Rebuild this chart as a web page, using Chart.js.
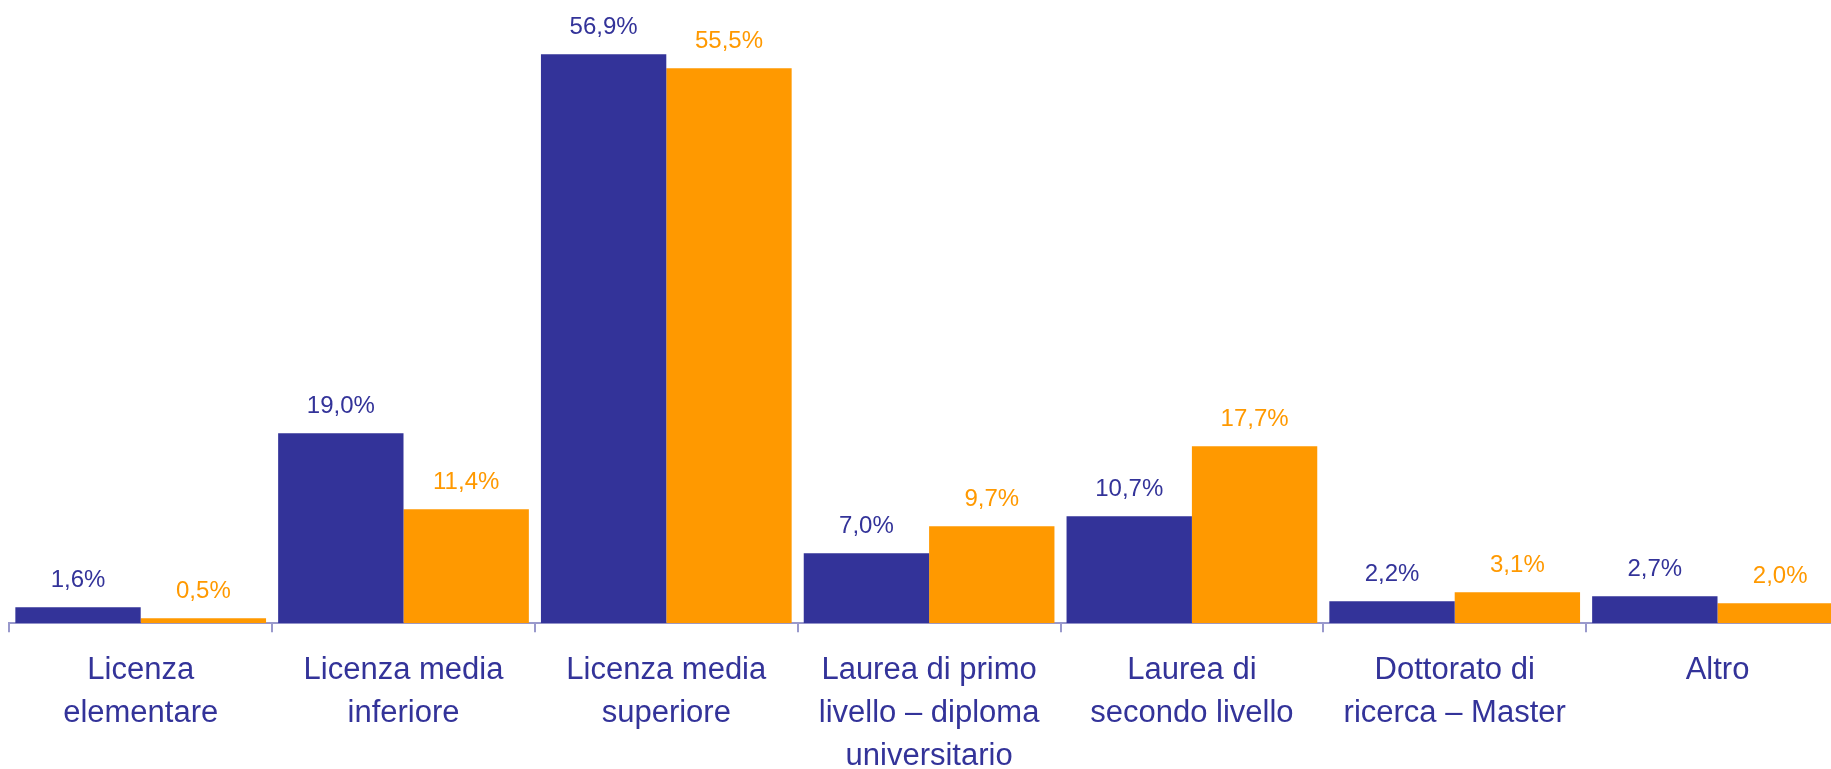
<!DOCTYPE html>
<html>
<head>
<meta charset="utf-8">
<script src="https://cdn.jsdelivr.net/npm/chart.js@4.4.1/dist/chart.umd.min.js"></script>
<style>
  html, body { margin: 0; padding: 0; background: #fff; overflow: hidden; }
  #wrap { width: 1860px; height: 800px; }
</style>
</head>
<body>
<div id="wrap"><canvas id="chart" width="1860" height="800"></canvas></div>
<script>
// titolo di studio - two groups
const categories = [
  ['Licenza', 'elementare'],
  ['Licenza media', 'inferiore'],
  ['Licenza media', 'superiore'],
  ['Laurea di primo', 'livello – diploma', 'universitario'],
  ['Laurea di', 'secondo livello'],
  ['Dottorato di', 'ricerca – Master'],
  ['Altro']
];
const seriesBlue = [1.6, 19.0, 56.9, 7.0, 10.7, 2.2, 2.7];
const seriesOrange = [0.5, 11.4, 55.5, 9.7, 17.7, 3.1, 2.0];

const BLUE = '#333399';
const ORANGE = '#ff9900';
const AXIS = '#9999cc';

// value labels above bars, italian decimal comma
const valueLabels = {
  id: 'valueLabels',
  afterDatasetsDraw(chart) {
    const ctx = chart.ctx;
    ctx.save();
    ctx.font = '24px "Liberation Sans", Arial, sans-serif';
    ctx.textAlign = 'center';
    ctx.textBaseline = 'middle';
    chart.data.datasets.forEach((ds, i) => {
      const meta = chart.getDatasetMeta(i);
      ctx.fillStyle = ds.backgroundColor;
      meta.data.forEach((bar, j) => {
        const txt = ds.data[j].toFixed(1).replace('.', ',') + '%';
        ctx.fillText(txt, bar.x, bar.y - 27);
      });
    });
    ctx.restore();
  }
};

new Chart(document.getElementById('chart'), {
  type: 'bar',
  data: {
    labels: categories,
    datasets: [
      { data: seriesBlue, backgroundColor: BLUE },
      { data: seriesOrange, backgroundColor: ORANGE }
    ]
  },
  options: {
    responsive: false,
    animation: false,
    layout: { padding: { left: 9.3, right: 11.1, top: 23.3, bottom: 4.7 } },
    datasets: { bar: { categoryPercentage: 0.954, barPercentage: 1.0 } },
    plugins: {
      legend: { display: false },
      tooltip: { enabled: false }
    },
    scales: {
      x: {
        grid: {
          display: true,
          drawOnChartArea: false,
          drawTicks: true,
          tickLength: 9,
          color: AXIS,
          lineWidth: 2
        },
        border: { display: true, color: AXIS, width: 2 },
        ticks: {
          color: BLUE,
          padding: 17,
          maxRotation: 0,
          autoSkip: false,
          font: { family: '"Liberation Sans", Arial, sans-serif', size: 31, lineHeight: 1.387 }
        }
      },
      y: {
        display: false,
        min: 0,
        max: 60
      }
    }
  },
  plugins: [valueLabels]
});
</script>
</body>
</html>
